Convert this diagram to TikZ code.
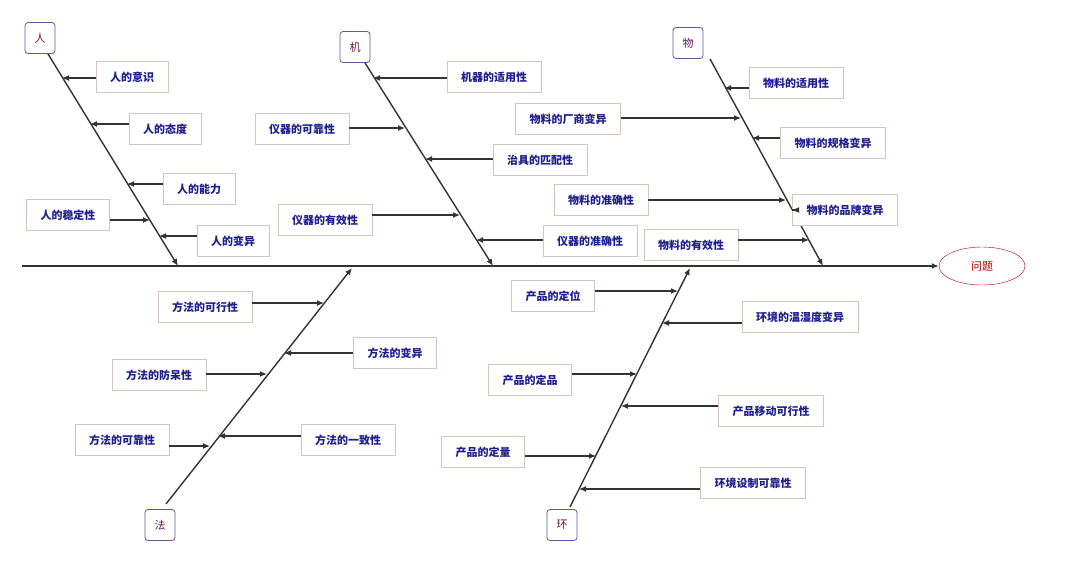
\documentclass[tikz,border=0pt]{standalone}
\usepackage{fontspec}
\setmainfont{Noto Sans CJK SC}
\usetikzlibrary{arrows.meta, shapes.geometric}
\definecolor{navy}{RGB}{30,30,140}
\definecolor{plum}{RGB}{110,20,80}
\begin{document}
\begin{tikzpicture}[x=1pt, y=-1pt,
        cause/.style={rectangle, rounded corners=3pt, draw=gray!70!blue, line width=0.8pt, fill=white, text=plum, minimum width=30pt, minimum height=31pt, font=\fontsize{11}{12}\selectfont},
        item/.style={rectangle, draw=red!15!gray!40, fill=white, text=navy, minimum height=31pt, inner xsep=14pt, font=\fontsize{11}{12}\selectfont\bfseries},
        bone/.style={line width=1.4pt, black!85},
        arrow/.style={-{Latex[length=7pt,width=6pt]}, line width=1.2pt, black!80}
    ]
        \useasboundingbox (0,0) rectangle (1080,566);

        % Spine and problem
        \node[ellipse, draw=red!70!black, text=red!70!black, minimum width=86pt, minimum height=38pt, font=\fontsize{11}{12}\selectfont] (prob) at (982,266) {问题};
        \coordinate (tail) at (22,266);
        \draw[arrow, line width=1.4pt] (tail) -- (prob);

        % Cause heads
        \node[cause] (ren) at (40,38) {人};
        \node[cause] (ji) at (355,47) {机};
        \node[cause] (wu) at (688,43) {物};
        \node[cause] (fa) at (160,525) {法};
        \node[cause] (huan) at (562,525) {环};

        % Bones
        \coordinate (renE) at (178,266);
        \coordinate (jiE) at (493,266);
        \coordinate (wuE) at (823,266);
        \coordinate (faE) at (352,268);
        \coordinate (huanE) at (690,268);
        \coordinate (faS) at (166,504);
        \coordinate (huanS) at (570,507);
        \draw[arrow, line width=1.4pt] (ren.south) ++(8,0) -- (renE);
        \draw[arrow, line width=1.4pt] (ji.south) ++(10,0) -- (jiE);
        \draw[arrow, line width=1.4pt] (wu.south) ++(22,0) -- (wuE);
        \draw[arrow, line width=1.4pt] (faS) -- (faE);
        \draw[arrow, line width=1.4pt] (huanS) -- (huanE);

        % Man
        \node[item] (r1) at (132,77) {人的意识};
        \node[item] (r2) at (165,129) {人的态度};
        \node[item] (r3) at (199,189) {人的能力};
        \node[item] (r4) at (68,215) {人的稳定性};
        \node[item] (r5) at (233,241) {人的变异};
        \coordinate (pr1) at (62,78);
        \coordinate (pr2) at (90,124);
        \coordinate (pr3) at (127,184);
        \coordinate (pr4) at (150,220);
        \coordinate (pr5) at (159,236);
        \draw[arrow] (r1.west |- pr1) -- (pr1);
        \draw[arrow] (r2.west |- pr2) -- (pr2);
        \draw[arrow] (r3.west |- pr3) -- (pr3);
        \draw[arrow] (r4.east |- pr4) -- (pr4);
        \draw[arrow] (r5.west |- pr5) -- (pr5);

        % Machine
        \node[item] (j1) at (494,77) {机器的适用性};
        \node[item] (j2) at (302,129) {仪器的可靠性};
        \node[item] (j3) at (540,160) {治具的匹配性};
        \node[item] (j4) at (325,220) {仪器的有效性};
        \node[item] (j5) at (590,241) {仪器的准确性};
        \coordinate (pj1) at (373,78);
        \coordinate (pj2) at (405,128);
        \coordinate (pj3) at (425,159);
        \coordinate (pj4) at (460,215);
        \coordinate (pj5) at (476,240);
        \draw[arrow] (j1.west |- pj1) -- (pj1);
        \draw[arrow] (j2.east |- pj2) -- (pj2);
        \draw[arrow] (j3.west |- pj3) -- (pj3);
        \draw[arrow] (j4.east |- pj4) -- (pj4);
        \draw[arrow] (j5.west |- pj5) -- (pj5);

        % Material
        \node[item] (w1) at (796,83) {物料的适用性};
        \node[item] (w2) at (568,119) {物料的厂商变异};
        \node[item] (w3) at (833,143) {物料的规格变异};
        \node[item] (w4) at (601,200) {物料的准确性};
        \node[item] (w5) at (845,210) {物料的品牌变异};
        \node[item] (w6) at (691,245) {物料的有效性};
        \coordinate (pw1) at (724,88);
        \coordinate (pw2) at (741,118);
        \coordinate (pw3) at (752,138);
        \coordinate (pw4) at (786,200);
        \coordinate (pw5) at (792,210);
        \coordinate (pw6) at (809,240);
        \draw[arrow] (w1.west |- pw1) -- (pw1);
        \draw[arrow] (w2.east |- pw2) -- (pw2);
        \draw[arrow] (w3.west |- pw3) -- (pw3);
        \draw[arrow] (w4.east |- pw4) -- (pw4);
        \draw[arrow] (w5.west |- pw5) -- (pw5);
        \draw[arrow] (w6.east |- pw6) -- (pw6);

        % Method
        \node[item] (f1) at (205,307) {方法的可行性};
        \node[item] (f2) at (395,353) {方法的变异};
        \node[item] (f3) at (159,375) {方法的防呆性};
        \node[item] (f4) at (348,440) {方法的一致性};
        \node[item] (f5) at (122,440) {方法的可靠性};
        \coordinate (pf1) at (324,303);
        \coordinate (pf2) at (284,353);
        \coordinate (pf3) at (267,374);
        \coordinate (pf4) at (218,436);
        \coordinate (pf5) at (210,446);
        \draw[arrow] (f1.east |- pf1) -- (pf1);
        \draw[arrow] (f2.west |- pf2) -- (pf2);
        \draw[arrow] (f3.east |- pf3) -- (pf3);
        \draw[arrow] (f4.west |- pf4) -- (pf4);
        \draw[arrow] (f5.east |- pf5) -- (pf5);

        % Environment
        \node[item] (h1) at (553,296) {产品的定位};
        \node[item] (h2) at (800,317) {环境的温湿度变异};
        \node[item] (h3) at (530,380) {产品的定品};
        \node[item] (h4) at (771,411) {产品移动可行性};
        \node[item] (h5) at (483,452) {产品的定量};
        \node[item] (h6) at (753,483) {环境设制可靠性};
        \coordinate (ph1) at (678,291);
        \coordinate (ph2) at (662,323);
        \coordinate (ph3) at (637,374);
        \coordinate (ph4) at (621,406);
        \coordinate (ph5) at (596,456);
        \coordinate (ph6) at (579,489);
        \draw[arrow] (h1.east |- ph1) -- (ph1);
        \draw[arrow] (h2.west |- ph2) -- (ph2);
        \draw[arrow] (h3.east |- ph3) -- (ph3);
        \draw[arrow] (h4.west |- ph4) -- (ph4);
        \draw[arrow] (h5.east |- ph5) -- (ph5);
        \draw[arrow] (h6.west |- ph6) -- (ph6);
    \end{tikzpicture}
\end{document}
